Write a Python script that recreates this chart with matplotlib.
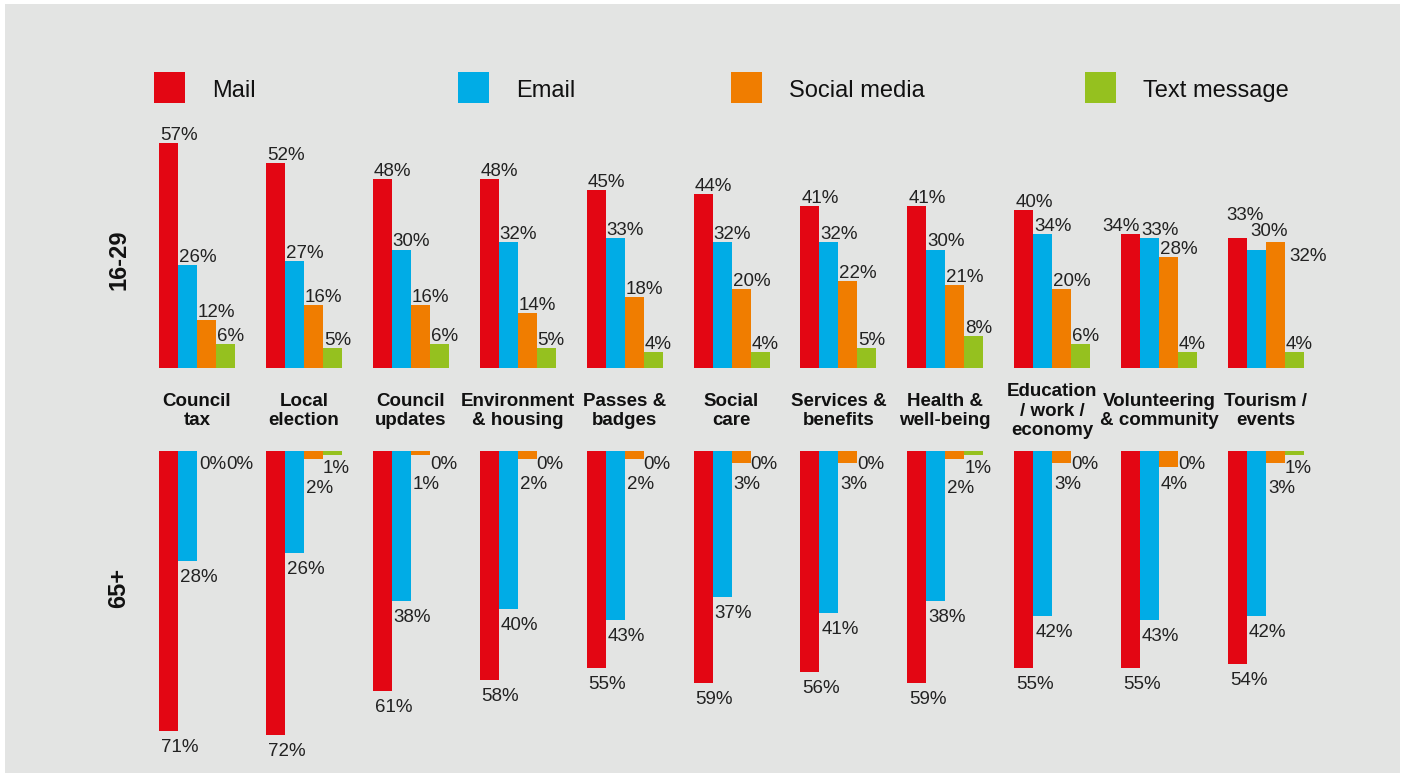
import numpy as np
import matplotlib
matplotlib.use("Agg")
import matplotlib.pyplot as plt
from matplotlib.patches import Rectangle

plt.rcParams['font.family'] = ['Liberation Sans', 'DejaVu Sans']

# data
categories = ["Council\ntax", "Local\nelection", "Council\nupdates", "Environment\n& housing",
              "Passes &\nbadges", "Social\ncare", "Services &\nbenefits", "Health &\nwell-being",
              "Education\n/ work /\neconomy", "Volunteering\n& community", "Tourism /\nevents"]
channels = ["Mail", "Email", "Social media", "Text message"]

young_mail = [57, 52, 48, 48, 45, 44, 41, 41, 40, 34, 33]
young_email = [26, 27, 30, 32, 33, 32, 32, 30, 34, 33, 30]
young_social = [12, 16, 16, 14, 18, 20, 22, 21, 20, 28, 32]
young_text = [6, 5, 6, 5, 4, 4, 5, 8, 6, 4, 4]

old_mail = [71, 72, 61, 58, 55, 59, 56, 59, 55, 55, 54]
old_email = [28, 26, 38, 40, 43, 37, 41, 38, 42, 43, 42]
old_social = [0, 2, 1, 2, 2, 3, 3, 2, 3, 4, 3]
old_text = [0, 1, 0, 0, 0, 0, 0, 1, 0, 0, 1]

colors = ["#e30613", "#00ace6", "#f07d00", "#95c11f"]
bg = "#e3e4e3"
txt = "#222222"

W, H = 1405, 773
fig = plt.figure(figsize=(W / 100, H / 100), dpi=100)
fig.patch.set_facecolor("white")
fig.patches.append(Rectangle((5 / W, 0), 1395 / W, 769 / H, transform=fig.transFigure,
                             facecolor=bg, edgecolor="none", zorder=-10))

# layout (pixels)
pitch = 106.9
c0 = 197
scale = 3.94
left_px, right_px = 140, 1390
bw = 19 / pitch
xlim = ((left_px - c0) / pitch, (right_px - c0) / pitch)

top_base = 367.7
ax_top = fig.add_axes([left_px / W, (H - top_base) / H, (right_px - left_px) / W, 60 * scale / H])
ax_top.set_ylim(0, 60)
bot_base = 451
ax_bot = fig.add_axes([left_px / W, (H - bot_base - 75 * scale) / H, (right_px - left_px) / W, 75 * scale / H])
ax_bot.set_ylim(75, 0)

for ax in (ax_top, ax_bot):
    ax.set_xlim(*xlim)
    ax.axis("off")

x = np.arange(len(categories))
young = [young_mail, young_email, young_social, young_text]
old = [old_mail, old_email, old_social, old_text]

# hand nudges for crowded labels (pixels)
top_nudge = {(9, 0): (-20, 0), (10, 0): (-3, 15), (10, 1): (2, 11), (10, 2): (22, -22)}

lab_fs = 13.5
for j in range(4):
    xs = x + (j - 1.5) * bw
    ax_top.bar(xs, young[j], width=bw, color=colors[j], clip_on=False)
    ax_bot.bar(xs, old[j], width=bw, color=colors[j], clip_on=False)
    for i in range(len(categories)):
        dx, dy = top_nudge.get((i, j), (0, 0))
        ax_top.annotate(f"{young[j][i]}%", (xs[i] - bw / 2, young[j][i]),
                        xytext=(1 + dx, 3 + dy), textcoords="offset pixels",
                        ha="left", va="baseline", fontsize=lab_fs, color=txt,
                        annotation_clip=False)

# bottom labels: mail / email below bars, text above social where they crowd
for i in range(len(categories)):
    xs = i + (np.arange(4) - 1.5) * bw - bw / 2
    for j in (0, 1):
        ax_bot.annotate(f"{old[j][i]}%", (xs[j], old[j][i]), xytext=(2, -21),
                        textcoords="offset pixels", ha="left", va="baseline",
                        fontsize=lab_fs, color=txt, annotation_clip=False)
    if old_social[i] == 0 and old_text[i] == 0:
        g_dx, o_dy = 10, -18
    else:
        g_dx, o_dy = 0, -18 - 20 - old_text[i] * scale
    ax_bot.annotate(f"{old_text[i]}%", (xs[3], old_text[i]), xytext=(g_dx, -18),
                    textcoords="offset pixels", ha="left", va="baseline",
                    fontsize=lab_fs, color=txt, annotation_clip=False)
    ax_bot.annotate(f"{old_social[i]}%", (xs[2], 0), xytext=(2, o_dy),
                    textcoords="offset pixels", ha="left", va="baseline",
                    fontsize=lab_fs, color=txt, annotation_clip=False)

# category labels between panels
for i, c in enumerate(categories):
    ax_top.annotate(c, (i, 0), xytext=(0, -(411 - top_base)), textcoords="offset pixels",
                    ha="center", va="center", fontsize=13.5, fontweight="bold",
                    color="#111111", linespacing=1.2, annotation_clip=False)

# row labels
fig.text(119 / W, 1 - 260 / H, "16-29", rotation=90, ha="center", va="center",
         fontsize=17, fontweight="bold", color="#111111")
fig.text(119 / W, 1 - 588 / H, "65+", rotation=90, ha="center", va="center",
         fontsize=17, fontweight="bold", color="#111111")

# legend
leg_x = [154, 458, 731, 1085]
for j, name in enumerate(channels):
    fig.patches.append(Rectangle((leg_x[j] / W, 1 - 103 / H), 31 / W, 31 / H,
                                 transform=fig.transFigure, facecolor=colors[j], edgecolor="none"))
    fig.text((leg_x[j] + 58) / W, 1 - 91 / H, name, ha="left", va="center",
             fontsize=17, color="#111111")

fig.savefig("out.png", dpi=100, facecolor=fig.get_facecolor())
